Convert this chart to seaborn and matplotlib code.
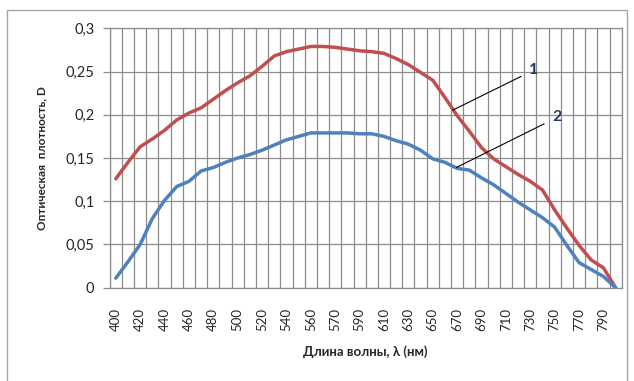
import matplotlib
matplotlib.use('Agg')
import matplotlib.pyplot as plt
import seaborn as sns
import pandas as pd
from matplotlib.patches import Rectangle

# wavelength categories (nm), as in the source sheet
wavelengths = (list(range(400, 561, 10)) + [565] + list(range(570, 801, 10)))
wl_labels = [str(w) for w in wavelengths]

# optical density, curve 1 (red) and curve 2 (blue)
curve1 = [0.126, 0.145, 0.163, 0.172, 0.182, 0.194, 0.202, 0.208, 0.218, 0.228,
          0.237, 0.245, 0.256, 0.268, 0.273, 0.276, 0.279, 0.279, 0.278, 0.276,
          0.274, 0.273, 0.271, 0.265, 0.258, 0.249, 0.240, 0.220, 0.199, 0.181,
          0.162, 0.149, 0.140, 0.131, 0.123, 0.113, 0.090, 0.069, 0.049, 0.032,
          0.023, 0.0]
curve2 = [0.011, 0.030, 0.050, 0.080, 0.101, 0.117, 0.123, 0.135, 0.139, 0.145,
          0.150, 0.154, 0.159, 0.165, 0.171, 0.175, 0.179, 0.179, 0.179, 0.179,
          0.178, 0.178, 0.175, 0.170, 0.166, 0.159, 0.149, 0.145, 0.138, 0.136,
          0.127, 0.119, 0.109, 0.099, 0.090, 0.081, 0.070, 0.049, 0.029, 0.021,
          0.013, 0.0]

y_ticks = [0, 0.05, 0.1, 0.15, 0.2, 0.25, 0.3]
y_tick_labels = ['0', '0,05', '0,1', '0,15', '0,2', '0,25', '0,3']

df = pd.DataFrame({'wl': wl_labels * 2,
                   'D': curve1 + curve2,
                   'curve': ['1'] * len(curve1) + ['2'] * len(curve2)})

sns.set_style('white')
plt.rcParams['font.family'] = ['Lato', 'DejaVu Sans']

fig = plt.figure(figsize=(6.34, 3.81), dpi=100)
ax = fig.add_axes([0.173, 0.2449, 0.8076, 0.6808])

sns.lineplot(data=df, x='wl', y='D', hue='curve',
             palette={'1': '#C0504D', '2': '#4F81BD'},
             linewidth=2.5, legend=False, sort=False, ax=ax)

n = len(wavelengths)
ax.set_xlim(-0.5, n - 0.5)
ax.set_ylim(0, 0.3)

# gridlines: category boundaries and every 0.05
grid_c = '#8c8c8c'
for i in range(n + 1):
    ax.axvline(i - 0.5, color=grid_c, lw=0.9, zorder=0)
for v in y_ticks:
    ax.axhline(v, color=grid_c, lw=0.9, zorder=0)

for s in ax.spines.values():
    s.set_color(grid_c)
    s.set_linewidth(0.9)

ax.set_yticks(y_ticks, y_tick_labels)
ax.set_xticks(range(n), [lab if i % 2 == 0 else '' for i, lab in enumerate(wl_labels)],
              rotation=90)
ax.tick_params(axis='y', left=True, length=5, width=0.9, color=grid_c, pad=6,
               labelsize=10.5, labelcolor='#262626')
ax.tick_params(axis='x', bottom=False, pad=11, labelsize=9.5, labelcolor='#262626')

ax.set_xlabel('Длина волны, λ (нм)', fontsize=9.5, fontweight='bold', labelpad=10)
ax.set_ylabel('Оптическая  плотность, D', fontsize=8.5, fontweight='bold', labelpad=13)

# leader lines to the curve numbers
ax.annotate('1', xy=(27.66, 0.2055), xytext=(34.3, 0.2517), fontsize=11.5,
            fontweight='bold', color='#1F3864', ha='center', va='center',
            arrowprops=dict(arrowstyle='-', color='black', lw=0.8, shrinkA=4, shrinkB=0))
ax.annotate('2', xy=(27.94, 0.139), xytext=(36.2, 0.197), fontsize=11.5,
            fontweight='bold', color='#1F3864', ha='center', va='center',
            arrowprops=dict(arrowstyle='-', color='black', lw=0.8, shrinkA=4, shrinkB=0))

# chart border
fig.patches.append(Rectangle((7 / 634, -0.01), 620 / 634, 1 - 10 / 381 + 0.01,
                             transform=fig.transFigure, fill=False,
                             edgecolor='#a6a6a6', lw=1.0))

fig.savefig('out.png', dpi=100)
